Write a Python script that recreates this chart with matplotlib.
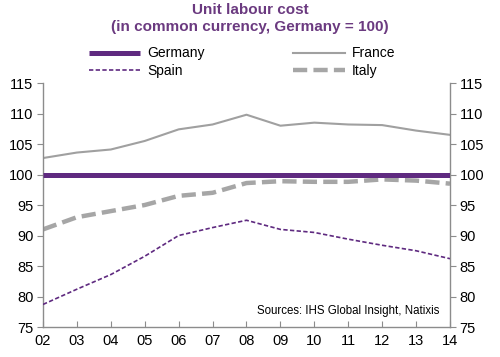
import matplotlib
matplotlib.use("Agg")
import matplotlib.pyplot as plt

plt.rcParams['font.family'] = ['Liberation Sans', 'DejaVu Sans']

years = ['02', '03', '04', '05', '06', '07', '08', '09', '10', '11', '12', '13', '14']
germany = [100] * 13
france = [102.7, 103.6, 104.1, 105.5, 107.4, 108.2, 109.8, 108.0, 108.5, 108.2, 108.1, 107.2, 106.5]
spain = [78.7, 81.2, 83.6, 86.6, 90.0, 91.3, 92.5, 91.0, 90.5, 89.4, 88.4, 87.5, 86.2]
italy = [91.0, 93.0, 94.0, 95.0, 96.5, 97.0, 98.6, 98.9, 98.8, 98.8, 99.2, 99.0, 98.5]
yticks = [75, 80, 85, 90, 95, 100, 105, 110, 115]

purple = '#5F2A80'
grey = '#A0A0A0'
axgrey = '#8C8C8C'

fig = plt.figure(figsize=(5.0, 3.57), dpi=100)
ax = fig.add_axes([0.086, 0.084, 0.814, 0.6835])
x = list(range(len(years)))

l_fr, = ax.plot(x, france, color=grey, lw=1.5, label='France', zorder=2)
l_it, = ax.plot(x, italy, color='#A6A6A6', lw=3.2, dashes=(3.2, 1.4), label='Italy', zorder=2)
l_sp, = ax.plot(x, spain, color=purple, lw=1.2, dashes=(2.6, 1.4), label='Spain', zorder=3)
l_de, = ax.plot(x, germany, color=purple, lw=3.6, label='Germany', zorder=4, solid_capstyle='butt')

ax.set_xlim(0, len(years) - 1)
ax.set_ylim(75, 115)
ax.set_xticks(x)
ax.set_xticklabels(years)
ax.set_yticks(yticks)
ax.set_yticklabels([str(v) for v in yticks])

ax.spines['top'].set_visible(False)
for s in ['left', 'right', 'bottom']:
    ax.spines[s].set_color(axgrey)
    ax.spines[s].set_linewidth(1.0)

ax.tick_params(axis='y', which='both', direction='out', length=4, color=axgrey,
               labelsize=10.5, labelcolor='black', left=True, right=True,
               labelleft=True, labelright=True, pad=3)
ax.tick_params(axis='x', direction='in', length=4, color=axgrey, labelsize=10.5, pad=5)

ax.text(0.973, 0.066, 'Sources: IHS Global Insight, Natixis', transform=ax.transAxes,
        ha='right', va='center', fontsize=8.3, color='black')

fig.text(0.5, 0.973, 'Unit labour cost', ha='center', va='center', fontsize=11,
         fontweight='bold', color='#6B3A80')
fig.text(0.5, 0.925, '(in common currency, Germany = 100)', ha='center', va='center',
         fontsize=11, fontweight='bold', color='#6B3A80')

handles = [l_de, l_sp, l_fr, l_it]
labels = ['Germany', 'Spain', 'France', 'Italy']
fig.legend(handles, labels, ncol=2, loc='center', bbox_to_anchor=(0.484, 0.826),
           frameon=False, fontsize=10, handlelength=3.7, columnspacing=6.4,
           handletextpad=0.5, labelspacing=0.25)

fig.savefig('out.png', dpi=100)
